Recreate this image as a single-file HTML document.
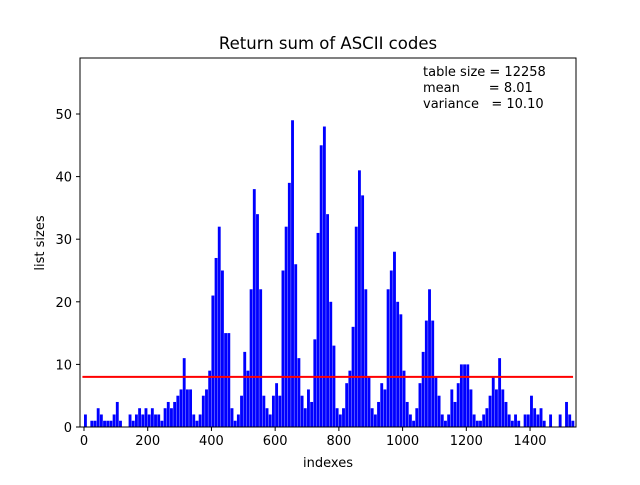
<!DOCTYPE html>
<html><head><meta charset="utf-8"><style>
body{margin:0;background:#fff}
svg text{font-family:"DejaVu Sans","Liberation Sans",sans-serif;fill:#000}
</style></head><body>
<svg id="c" width="640" height="480">
<rect width="640" height="480" fill="#fff"/>
<text x="328" y="49" font-size="16.5" text-anchor="middle">Return sum of ASCII codes</text>
<g id="bars"></g>
<g id="axes"></g>
<text x="328" y="467" font-size="13" text-anchor="middle">indexes</text>
<text x="44" y="243" font-size="13" text-anchor="middle" transform="rotate(-90 44 243)">list sizes</text>
<g font-size="13">
<text x="423" y="76" xml:space="preserve">table size = 12258</text>
<text x="423" y="92" xml:space="preserve">mean       = 8.01</text>
<text x="423" y="108" xml:space="preserve">variance   = 10.10</text>
</g>
</svg>
<script>
const groupStarts = [0,10,20,30,40,50,60,70,80,90,100,110,120,130,140,150,160,170,180,190,200,210,220,230,240,250,260,270,280,290,300,310,320,330,340,350,360,370,380,390,400,410,420,430,440,450,460,470,480,490,500,510,520,530,540,550,560,570,580,590,600,610,620,630,640,650,660,670,680,690,700,710,720,730,740,750,760,770,780,790,800,810,820,830,840,850,860,870,880,890,900,910,920,930,940,950,960,970,980,990,1000,1010,1020,1030,1040,1050,1060,1070,1080,1090,1100,1110,1120,1130,1140,1150,1160,1170,1180,1190,1200,1210,1220,1230,1240,1250,1260,1270,1280,1290,1300,1310,1320,1330,1340,1350,1360,1370,1380,1390,1400,1410,1420,1430,1440,1450,1460,1470,1480,1490,1500,1510,1520,1530];
const listSizes = [2,0,1,1,3,2,1,1,1,2,4,1,0,0,2,1,2,3,2,3,2,3,2,2,1,3,4,3,4,5,6,11,6,6,2,1,2,5,6,9,21,27,32,25,15,15,3,1,2,5,12,9,22,38,34,22,5,3,2,5,7,5,25,32,39,49,26,11,5,3,6,4,14,31,45,48,34,20,13,3,2,3,7,9,16,32,41,37,22,8,3,2,4,7,6,22,25,28,20,18,9,4,2,1,3,7,12,17,22,17,8,5,2,1,2,6,4,7,10,10,10,6,2,1,1,2,3,5,8,6,11,6,4,2,1,2,1,0,2,2,5,3,2,3,1,0,2,0,0,2,0,4,2,1];
const meanValue = 8.01;
const xTicks = [0,200,400,600,800,1000,1200,1400];
const yTicks = [0,10,20,30,40,50];
const groupWidth = 10;

const L=80,R=576,T=58,B=427;
const xs = i => 84 + i*0.3186;
const ys = v => 427 - v*6.26;
const NS="http://www.w3.org/2000/svg";
const bars=document.getElementById('bars'), axes=document.getElementById('axes');
function mk(tag,attrs,parent){const e=document.createElementNS(NS,tag);for(const k in attrs)e.setAttribute(k,attrs[k]);parent.appendChild(e);return e;}
listSizes.forEach((v,k)=>{
  if(v<=0)return;
  const x0=xs(groupStarts[k]), x1=xs(groupStarts[k]+groupWidth-1);
  const r=mk('rect',{x:x0,y:ys(v),width:Math.max(0.8,x1-x0),height:B-ys(v),fill:'#0000ff'},bars);
  
  
});
const ml=mk('line',{x1:xs(-5),x2:xs(1535),y1:ys(meanValue),y2:ys(meanValue),stroke:'#ff0000','stroke-width':2},axes);


const fr=mk('rect',{x:L,y:T,width:R-L,height:B-T,fill:'none',stroke:'#000','stroke-width':1},axes);


xTicks.forEach(t=>{
  const x=xs(t);
  mk('line',{x1:x,x2:x,y1:B,y2:B+4,stroke:'#000'},axes);
  const tx=mk('text',{x:x,y:B+18,'font-size':13,'text-anchor':'middle'},axes);
  tx.textContent=t;
  
  
});
yTicks.forEach(t=>{
  const y=ys(t);
  mk('line',{x1:L-4,x2:L,y1:y,y2:y,stroke:'#000'},axes);
  const tx=mk('text',{x:L-8,y:y+5,'font-size':13,'text-anchor':'end'},axes);
  tx.textContent=t;
  
  
});
</script>
</body></html>
